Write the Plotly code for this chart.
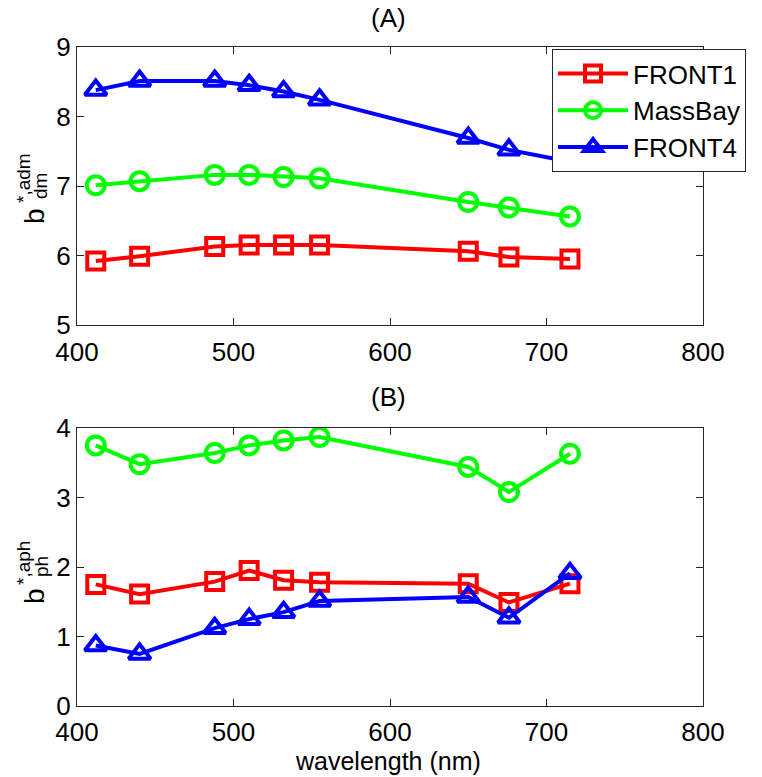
import plotly.graph_objects as go

wavelength = [412, 440, 488, 510, 532, 555, 650, 676, 715]

# Panel A: b*,adm_dm
front1_a = [5.92, 5.99, 6.13, 6.15, 6.15, 6.15, 6.06, 5.98, 5.95]
massbay_a = [7.01, 7.07, 7.16, 7.16, 7.13, 7.11, 6.77, 6.69, 6.56]
front4_a = [8.38, 8.51, 8.51, 8.45, 8.36, 8.24, 7.69, 7.52, 7.35]

# Panel B: b*,aph_ph
front1_b = [1.75, 1.61, 1.79, 1.95, 1.81, 1.78, 1.76, 1.49, 1.76]
massbay_b = [3.75, 3.48, 3.64, 3.75, 3.82, 3.87, 3.44, 3.08, 3.63]
front4_b = [0.87, 0.75, 1.12, 1.25, 1.35, 1.51, 1.57, 1.27, 1.91]

names = ["FRONT1", "MassBay", "FRONT4"]
colors = ["#ff0000", "#00ff00", "#0000ff"]
symbols = ["square-open", "circle-open", "triangle-up-open"]
sizes = [17, 18, 19]

W, H = 762, 777
FONT = "Liberation Sans, Arial, sans-serif"

fig = go.Figure()

series_a = [front1_a, massbay_a, front4_a]
series_b = [front1_b, massbay_b, front4_b]

for i in range(3):
    fig.add_trace(go.Scatter(
        x=wavelength, y=series_a[i], name=names[i], mode="lines+markers",
        line=dict(color=colors[i], width=4),
        marker=dict(symbol=symbols[i], size=sizes[i], color=colors[i],
                    line=dict(color=colors[i], width=4)),
        xaxis="x", yaxis="y", showlegend=True))
for i in range(3):
    fig.add_trace(go.Scatter(
        x=wavelength, y=series_b[i], name=names[i], mode="lines+markers",
        line=dict(color=colors[i], width=4),
        marker=dict(symbol=symbols[i], size=sizes[i], color=colors[i],
                    line=dict(color=colors[i], width=4)),
        xaxis="x2", yaxis="y2", showlegend=False))

xdom = [77 / W, 703 / W]
ydom_a = [1 - 325 / H, 1 - 47 / H]
ydom_b = [1 - 706 / H, 1 - 428 / H]

axis_common = dict(
    showgrid=False, zeroline=False, showline=True, linecolor="#262626",
    linewidth=1, mirror="ticks", ticks="inside", ticklen=7, automargin=False,
    tickcolor="#262626", tickfont=dict(family=FONT, size=26, color="black"),
)
xtick = [400, 500, 600, 700, 800]

fig.update_layout(
    width=W, height=H,
    margin=dict(l=0, r=0, t=0, b=0, pad=0, autoexpand=False),
    paper_bgcolor="white", plot_bgcolor="white",
    font=dict(family=FONT, size=26, color="black"),
    xaxis=dict(domain=xdom, range=[400, 800], tickvals=xtick, ticklabelstandoff=4,
               anchor="y", **axis_common),
    yaxis=dict(domain=ydom_a, range=[5, 9], tickvals=[5, 6, 7, 8, 9],
               anchor="x", **axis_common),
    xaxis2=dict(domain=xdom, range=[400, 800], tickvals=xtick, ticklabelstandoff=3,
                anchor="y2", **axis_common),
    yaxis2=dict(domain=ydom_b, range=[0, 4], tickvals=[0, 1, 2, 3, 4],
                anchor="x2", **axis_common),
    legend=dict(x=552 / W, y=1 - 49 / H, xanchor="left", yanchor="top",
                bgcolor="white", bordercolor="#262626", borderwidth=1,
                font=dict(family=FONT, size=26, color="black"),
                itemwidth=70, tracegroupgap=0),
    showlegend=True,
)

def ann(text, x, y, size, angle=0):
    fig.add_annotation(text=text, x=x / W, y=1 - y / H, xref="paper", yref="paper",
                       xanchor="center", yanchor="middle", showarrow=False,
                       textangle=angle, font=dict(family=FONT, size=size, color="black"))

ann("(A)", 388, 18, 26)
ann("(B)", 388, 397, 26)
ann("wavelength (nm)", 388, 761, 25)

# y-axis labels with stacked sub/superscripts
ann("b", 34, 216, 28, -90)
ann("dm", 41, 186, 19, -90)
ann("*,adm", 23, 178, 19, -90)

ann("b", 34, 596, 28, -90)
ann("ph", 41, 567, 19, -90)
ann("*,aph", 23, 563, 19, -90)

fig.write_html("out.html")
